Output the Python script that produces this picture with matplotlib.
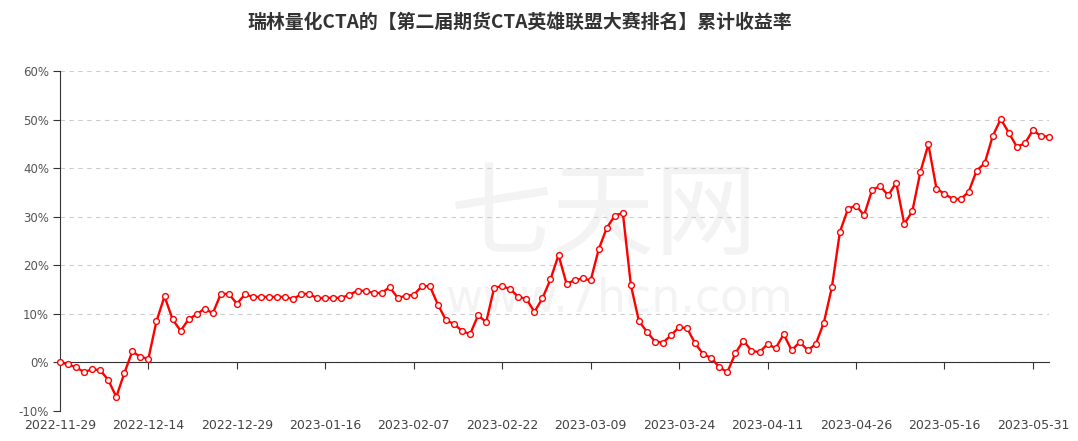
import matplotlib
matplotlib.use("Agg")
import matplotlib.pyplot as plt
import matplotlib.transforms as mtransforms
import numpy as np
import pandas as pd

plt.rcParams['font.family'] = ['Noto Sans CJK SC', 'DejaVu Sans']

title = "瑞林量化CTA的【第二届期货CTA英雄联盟大赛排名】累计收益率"

# trading days (exchange holidays removed)
first_day = "2022-11-29"
last_day = "2023-06-02"
holidays = ["2023-01-02", "2023-01-23", "2023-01-24", "2023-01-25", "2023-01-26",
            "2023-01-27", "2023-04-05", "2023-05-01", "2023-05-02", "2023-05-03"]

# cumulative return, %
returns = [
    0.0, -0.4, -1.0, -2.0, -1.4, -1.6, -3.6, -7.1, -2.2, 2.3,
    1.1, 0.8, 8.5, 13.6, 8.9, 6.5, 8.9, 9.9, 11.1, 10.1,
    14.1, 14.1, 12.1, 14.0, 13.5, 13.5, 13.5, 13.5, 13.5, 13.0,
    14.1, 14.1, 13.2, 13.3, 13.3, 13.3, 13.9, 14.8, 14.7, 14.3,
    14.3, 15.5, 13.3, 13.7, 13.9, 15.7, 15.7, 11.9, 8.7, 7.9,
    6.5, 5.8, 9.7, 8.3, 15.4, 15.7, 15.1, 13.5, 13.1, 10.4,
    13.2, 17.1, 22.1, 16.2, 16.9, 17.3, 16.9, 23.3, 27.7, 30.2,
    30.8, 15.9, 8.5, 6.3, 4.3, 4.1, 5.6, 7.3, 7.0, 3.9,
    1.7, 0.9, -1.0, -2.0, 1.9, 4.5, 2.4, 2.1, 3.8, 2.9,
    5.8, 2.5, 4.2, 2.5, 3.8, 8.2, 15.5, 26.9, 31.6, 32.3,
    30.3, 35.5, 36.3, 34.4, 37.0, 28.5, 31.1, 39.2, 44.9, 35.8,
    34.7, 33.7, 33.6, 35.1, 39.5, 41.0, 46.6, 50.1, 47.3, 44.4,
    45.1, 47.8, 46.6, 46.5,
]
yticks = [-10, 0, 10, 20, 30, 40, 50, 60]
label_step = 11

days = pd.bdate_range(first_day, last_day)
days = days[~days.isin(pd.to_datetime(holidays))]
dates = [d.strftime("%Y-%m-%d") for d in days]
x = np.arange(len(returns))

fig = plt.figure(figsize=(10.78, 4.41), dpi=100)
ax = fig.add_axes([60 / 1078, 30 / 441, 989 / 1078, 340 / 441])

# faint watermark
ax.text(0.55, 0.57, "七天网", transform=ax.transAxes, ha='center', va='center',
        fontsize=74, color='#f3f3f3', zorder=0)
ax.text(0.565, 0.33, "www.7hcn.com", transform=ax.transAxes, ha='center', va='center',
        fontsize=33, color='#f3f3f3', family='DejaVu Sans', zorder=0)

ax.plot(x, returns, color='#ff0000', lw=1.7, marker='o', ms=4.2, mfc='white',
        mec='#ff0000', mew=1.0, zorder=3, clip_on=False)

ax.set_xlim(0, len(returns) - 1)
ax.set_ylim(-10, 60)

for s in ['top', 'right']:
    ax.spines[s].set_visible(False)
ax.spines['left'].set_color('#333333')
ax.spines['bottom'].set_position(('data', 0))
ax.spines['bottom'].set_color('#333333')

ax.set_yticks(yticks)
ax.set_yticklabels([f"{v}%" for v in yticks], family='DejaVu Sans')
ax.yaxis.grid(True, color='#cccccc', ls=(0, (4, 4)), lw=0.8)
ax.set_axisbelow(True)
ax.tick_params(axis='y', direction='out', length=5, color='#333333',
               labelsize=8.5, labelcolor='#555555', pad=3)

tick_idx = x[::label_step]
ax.set_xticks(tick_idx)
ax.tick_params(axis='x', direction='out', length=5, color='#333333', labelbottom=False)
trans = mtransforms.blended_transform_factory(ax.transData, ax.transAxes)
for i in tick_idx:
    ax.text(i, -0.042, dates[i], transform=trans, ha='center', va='center',
            fontsize=9, color='#444444', family='DejaVu Sans')

fig.text(520 / 1078, 1 - 22 / 441, title, ha='center', va='center',
         fontsize=13.6, fontweight='bold', color='#333333')

fig.savefig("out.png", dpi=100)
